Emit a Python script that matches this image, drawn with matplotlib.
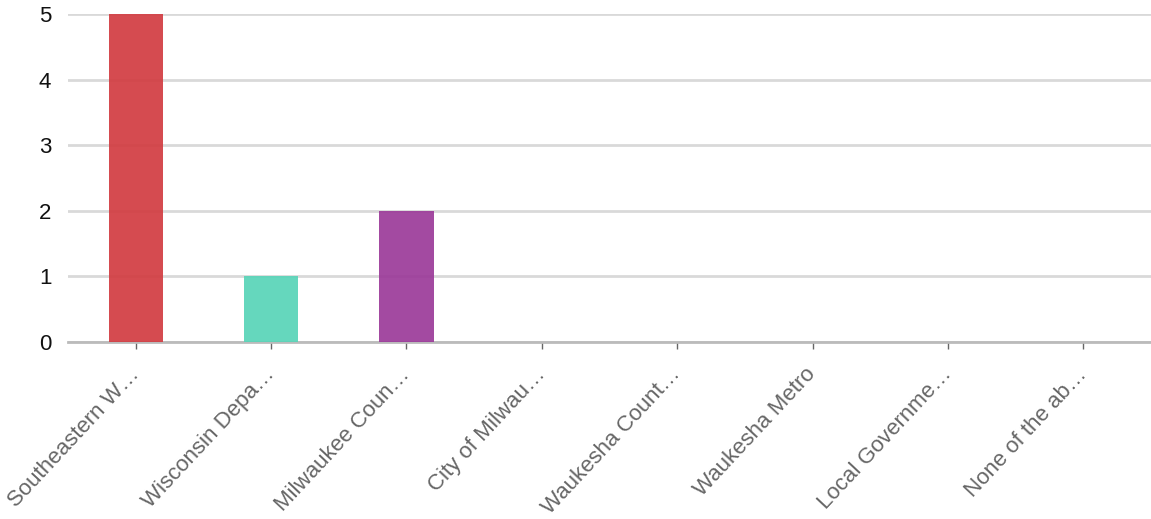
import matplotlib
matplotlib.use("Agg")
import matplotlib.pyplot as plt
import numpy as np

plt.rcParams['font.family'] = ['Liberation Sans', 'DejaVu Sans']

categories = ["Southeastern W\u2026", "Wisconsin Depa\u2026", "Milwaukee Coun\u2026",
              "City of Milwau\u2026", "Waukesha Count\u2026", "Waukesha Metro",
              "Local Governme\u2026", "None of the ab\u2026"]
values = [5, 1, 2, 0, 0, 0, 0, 0]
bar_colors = ["#d23c41", "#58d4b8", "#9b3a99", "#d23c41", "#d23c41", "#d23c41", "#d23c41", "#d23c41"]
y_ticks = [0, 1, 2, 3, 4, 5]

fig = plt.figure(figsize=(11.51, 5.19), dpi=100)
ax = fig.add_axes([68 / 1151, 1 - 342 / 519, (1151 - 68) / 1151, (342 - 14) / 519])

x = np.arange(len(categories))
for i, v in enumerate(values):
    if v > 0:
        ax.bar(x[i], v, width=0.4, color=bar_colors[i], alpha=0.92, zorder=3)

ax.set_xlim(-0.5, len(categories) - 0.5)
ax.set_ylim(0, 5)
ax.set_yticks(y_ticks)
ax.set_yticklabels([str(t) for t in y_ticks], fontsize=16, color="#111111")
ax.yaxis.grid(True, color="#d9d9d9", linewidth=2, zorder=0)

ax.set_xticks(x)
ax.set_xticklabels(categories, rotation=47, ha="right", va="center",
                   rotation_mode="anchor", fontsize=16, color="#666666")

for s in ["top", "right", "left"]:
    ax.spines[s].set_visible(False)
ax.spines["bottom"].set_color("#bbbbbb")
ax.spines["bottom"].set_linewidth(2)
ax.spines["bottom"].set_zorder(2)

ax.tick_params(axis="y", length=0, pad=12)
ax.tick_params(axis="x", length=5, width=1, color="#666666", pad=16)

fig.savefig("out.png", dpi=100)
